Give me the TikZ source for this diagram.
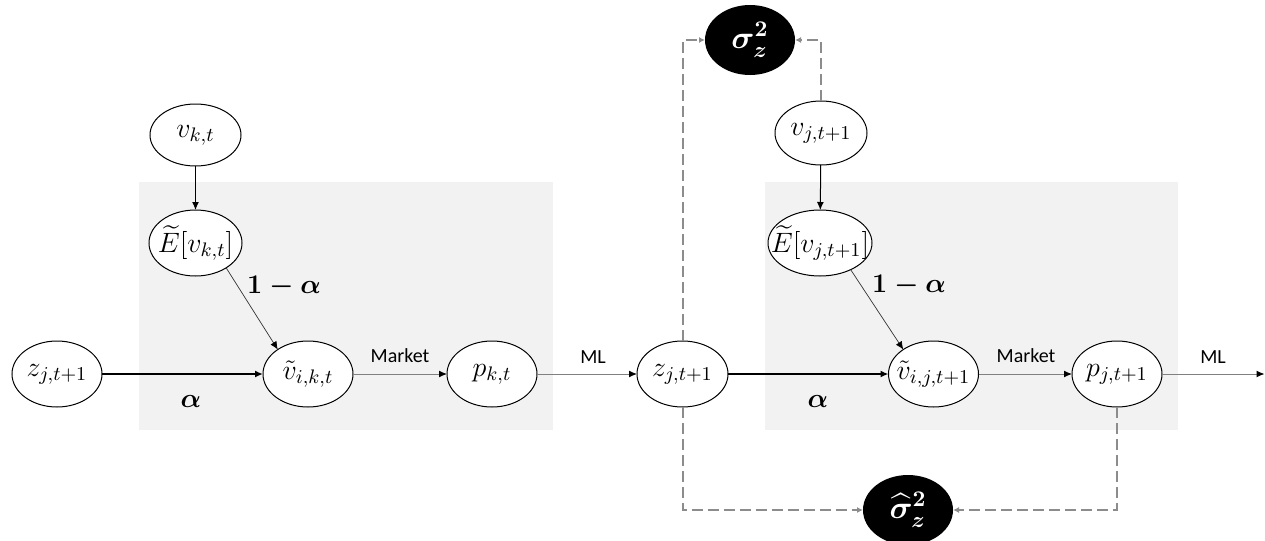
\RequirePackage{fix-cm}
\documentclass[tikz,border=0pt]{standalone}
\usepackage{amsmath}
\usepackage{fontspec}
\newfontfamily\labfont{Carlito}
\usetikzlibrary{shapes.geometric,arrows.meta}
\newcommand{\zb}[1]{\makebox[0pt]{#1}}
\definecolor{boxgray}{HTML}{F2F2F2}
\definecolor{lgray}{HTML}{808080}
\definecolor{dgray}{HTML}{8C8C8C}
\tikzset{
  ell/.style={ellipse, draw=black, line width=0.5pt, fill=white, inner sep=0pt, outer sep=0pt,
    minimum width=45pt, minimum height=33pt, font=\fontsize{14}{16}\selectfont},
  bell/.style={ellipse, fill=black, text=white, inner sep=0pt, outer sep=0pt,
    minimum width=45pt, minimum height=35pt, font=\fontsize{16}{18}\selectfont\boldmath},
  solidarrow/.style={draw=black, line width=0.5pt, -{Latex[length=4pt,width=3.5pt]}},
  thinarrow/.style={draw=black!80, line width=0.35pt, -{Latex[length=4pt,width=3.5pt,color=black]}},
  thickarrow/.style={draw=black, line width=0.8pt, -{Latex[length=4pt,width=3.5pt]}},
  grayarrow/.style={draw=lgray, line width=0.5pt, -{Latex[length=4pt,width=3.5pt,color=black]}},
  dasharrow/.style={draw=dgray, line width=1pt, dash pattern=on 5.5pt off 2.5pt, -{Latex[length=3pt,width=3pt]}},
  wlabel/.style={font=\labfont\fontsize{10}{12}\selectfont, inner sep=0pt},
  alabel/.style={font=\fontsize{13.5}{15}\selectfont\boldmath, inner sep=0pt},
}
\begin{document}
\begin{tikzpicture}[x=0.5pt,y=-0.5pt]
\useasboundingbox (0,0) rectangle (1265,541);
% gray boxes
\fill[boxgray] (139,182) rectangle (553,430);
\fill[boxgray] (765,182) rectangle (1178,430);
% nodes
\node[ell, minimum width=45.5pt, minimum height=31pt] (vk) at (195.5,135) {\zb{$v_{k,t}$}};
\node[ell, minimum width=46.5pt] (Ek) at (195.5,243) {\zb{$\widetilde{E}[v_{k,t}]$}};
\node[ell] (zl) at (57,374) {\zb{$z_{j,t+1}$}};
\node[ell] (vtk) at (308,374) {\zb{$\tilde{v}_{i,k,t}$}};
\node[ell] (pk) at (492,374) {\zb{$p_{k,t}$}};
\node[ell, minimum width=45.5pt] (zm) at (682.5,374) {\zb{$z_{j,t+1}$}};
\node[ell, minimum width=46pt, minimum height=32pt] (vj) at (821,133) {\zb{$v_{j,t+1}$}};
\node[ell, minimum width=52pt] (Ej) at (820,243) {\zb{$\widetilde{E}[v_{j,t+1}]$}};
\node[ell, minimum width=45pt] (vtj) at (933.5,374) {\zb{$\tilde{v}_{i,j,t+1}$}};
\node[ell] (pj) at (1117,374) {\zb{$p_{j,t+1}$}};
\node[bell] (sig) at (750,40) {$\sigma_z^2$};
\node[bell] (sighat) at (908,510) {$\widehat{\sigma}_z^2$};
\coordinate (end) at (1264.5,374);
% labels
\node[alabel] (oma1) at (284,287) {$1-\alpha$};
\node[alabel] (oma2) at (909,286) {$1-\alpha$};
\node[alabel] (al1) at (191,401) {$\alpha$};
\node[alabel] (al2) at (818,401) {$\alpha$};
\node[wlabel] (mk1) at (400,356) {Market};
\node[wlabel] (mk2) at (1026,356) {Market};
\node[wlabel] (ml1) at (593,357) {ML};
\node[wlabel] (ml2) at (1213,357) {ML};
% solid connectors
\draw[solidarrow] (vk) -- (Ek);
\draw[solidarrow] (vj) -- (Ej);
\draw[thinarrow] (Ek.-39) -- (vtk.141);
\draw[thinarrow] (Ej.-41) -- (vtj.141);
\draw[thickarrow] (zl) -- (vtk);
\draw[thickarrow] (zm) -- (vtj);
\draw[grayarrow] (vtk) -- (pk);
\draw[grayarrow] (pk) -- (zm);
\draw[grayarrow] (vtj) -- (pj);
\draw[grayarrow] (pj) -- (end);
% dashed connectors
\draw[dasharrow] (zm.north) |- (sig.west);
\draw[dasharrow] (vj.north) |- (sig.east);
\draw[dasharrow] (zm.south) |- (sighat.west);
\draw[dasharrow] (pj.south) |- (sighat.east);
\end{tikzpicture}
\end{document}
